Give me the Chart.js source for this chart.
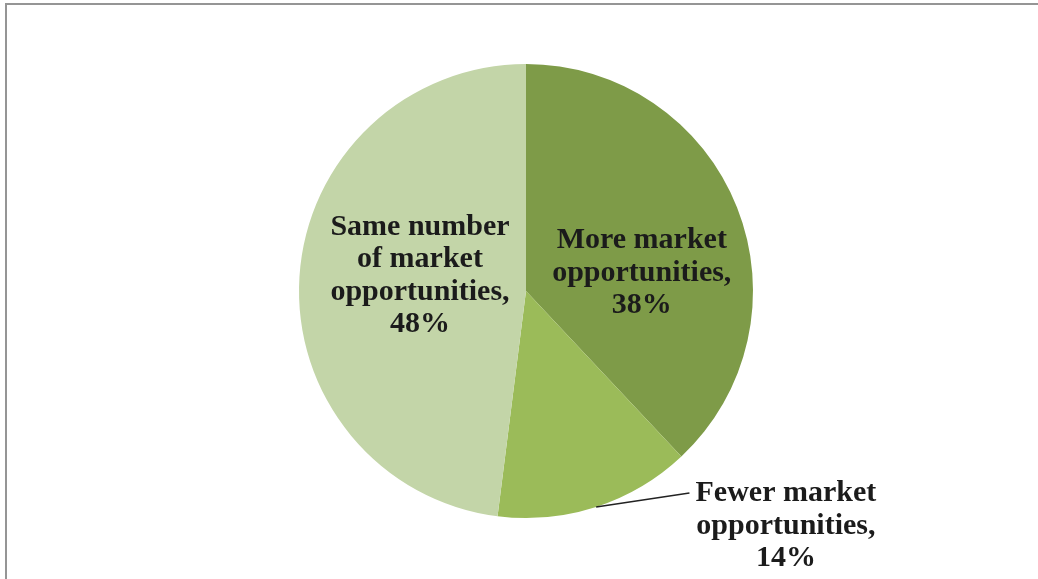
<!DOCTYPE html>
<html>
<head>
<meta charset="utf-8">
<script src="https://cdn.jsdelivr.net/npm/chart.js@4/dist/chart.umd.min.js"></script>
<style>
  html, body { margin: 0; padding: 0; background: #fff; }
  #wrap { position: relative; width: 1038px; height: 579px; overflow: hidden; }
  #frame {
    position: absolute; left: 5px; top: 3px; right: -10px; bottom: -10px;
    border-top: 2px solid #959595; border-left: 2px solid #959595;
    pointer-events: none;
  }
</style>
</head>
<body>
<div id="wrap">
  <canvas id="pie"></canvas>
  <div id="frame"></div>
</div>
<script>
"use strict";

// slices, clockwise from 12 o'clock
const categories = ['More market opportunities', 'Fewer market opportunities', 'Same number of market opportunities'];
const shares = [38, 14, 48];
const sliceColors = ['#7e9b48', '#9bbb59', '#c3d5a8'];

// label lines for each slice (value is appended from shares)
const labelLines = [
  ['More market', 'opportunities,'],
  ['Fewer market', 'opportunities,'],
  ['Same number', 'of market', 'opportunities,']
];

// where each label block sits, as a fraction of the radius from the centre
const labelPos = [
  { fx: 0.51, fy: -0.08 },
  { fx: 1.145, fy: 1.035, leader: { fx: 0.72, fy: 0.89 } },
  { fx: -0.467, fy: -0.068 }
];

const FONT = 'bold 30px "Liberation Serif", "DejaVu Serif", serif';
const LINE_H = 32.5;

// writes the category labels, with a leader line for the small slice
const pieLabels = {
  id: 'pieLabels',
  afterDatasetsDraw(chart) {
    const ctx = chart.ctx;
    const meta = chart.getDatasetMeta(0);
    ctx.save();
    ctx.font = FONT;
    ctx.fillStyle = '#1b1b1b';
    ctx.textAlign = 'center';
    ctx.textBaseline = 'middle';
    meta.data.forEach((arc, i) => {
      const cx = arc.x, cy = arc.y, r = arc.outerRadius;
      const pos = labelPos[i];
      const lines = labelLines[i].concat([shares[i] + '%']);
      const bx = cx + pos.fx * r;
      const by = cy + pos.fy * r;
      const top = by - (lines.length - 1) * LINE_H / 2;
      lines.forEach((t, k) => ctx.fillText(t, bx, top + k * LINE_H));

      if (pos.leader) {
        const mid = (arc.startAngle + arc.endAngle) / 2;
        ctx.beginPath();
        ctx.strokeStyle = '#222';
        ctx.lineWidth = 1.5;
        ctx.moveTo(cx + Math.cos(mid) * r, cy + Math.sin(mid) * r);
        ctx.lineTo(cx + pos.leader.fx * r, cy + pos.leader.fy * r);
        ctx.stroke();
      }
    });
    ctx.restore();
  }
};

// render
const pieChart = new Chart(document.getElementById('pie'), {
  type: 'pie',
  data: {
    labels: categories,
    datasets: [{
      data: shares,
      backgroundColor: sliceColors,
      borderWidth: 0
    }]
  },
  options: {
    responsive: true,
    maintainAspectRatio: false,
    animation: false,
    layout: { padding: { top: 64, bottom: 61, left: 100, right: 86 } },
    plugins: {
      legend: { display: false },
      tooltip: { enabled: false }
    }
  },
  plugins: [pieLabels]
});
</script>
</body>
</html>
